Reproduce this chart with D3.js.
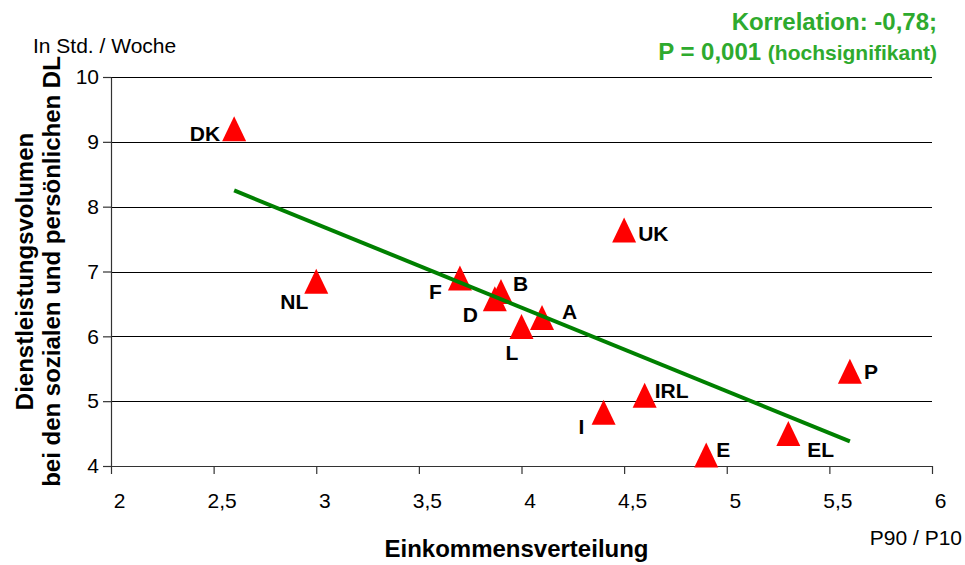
<!DOCTYPE html>
<html>
<head>
<meta charset="utf-8">
<script src="https://cdn.jsdelivr.net/npm/d3@7"></script>
<style>
  html, body { margin: 0; padding: 0; background: #fff; overflow: hidden; }
  svg { display: block; font-family: "Liberation Sans", Arial, sans-serif; }
</style>
</head>
<body>
<div id="chart"></div>
<script>
// data
const countries = ["DK", "NL", "F", "B", "D", "A", "L", "UK", "P", "IRL", "I", "E", "EL"];
const incomeRatio = [2.6, 3.0, 3.7, 3.9, 3.87, 4.1, 4.0, 4.5, 5.6, 4.6, 4.4, 4.9, 5.3];
const serviceHours = [9.2, 6.85, 6.9, 6.69, 6.58, 6.29, 6.15, 7.64, 5.46, 5.09, 4.83, 4.17, 4.5];
const trendX = [2.6, 5.6];
const trendY = [8.25, 4.38];
const xTicks = [2, 2.5, 3, 3.5, 4, 4.5, 5, 5.5, 6];
const yTicks = [4, 5, 6, 7, 8, 9, 10];

// hand-placed label offsets (px from the marker centre), like the original
const labelPos = {
    DK:  { dx: -14, dy: 12, anchor: "end" },
    NL:  { dx: -8,  dy: 28, anchor: "end" },
    F:   { dx: -18, dy: 21, anchor: "end" },
    B:   { dx: 12,  dy: -1, anchor: "start" },
    D:   { dx: -17, dy: 23, anchor: "end" },
    A:   { dx: 20,  dy: 1,  anchor: "start" },
    L:   { dx: -16, dy: 33, anchor: "start" },
    UK:  { dx: 14,  dy: 11, anchor: "start" },
    P:   { dx: 14,  dy: 8,  anchor: "start" },
    IRL: { dx: 10,  dy: 3,  anchor: "start" },
    I:   { dx: -25, dy: 22, anchor: "start" },
    E:   { dx: 10,  dy: 2,  anchor: "start" },
    EL:  { dx: 19,  dy: 23, anchor: "start" }
};

const width = 965, height = 565;
const margin = { top: 77, right: 33, bottom: 99, left: 111 };
const innerWidth = width - margin.left - margin.right;
const innerHeight = height - margin.top - margin.bottom;

// German decimal comma
const de = d3.formatLocale({ decimal: ",", thousands: ".", grouping: [3], currency: ["", " €"] });
const fmt = de.format("~g");

const svg = d3.select("#chart").append("svg")
    .attr("width", width)
    .attr("height", height);

const chart = svg.append("g")
    .attr("transform", `translate(${margin.left}, ${margin.top})`);

const x = d3.scaleLinear().domain([2, 6]).range([0, innerWidth]);
const y = d3.scaleLinear().domain([4, 10]).range([innerHeight, 0]);

// gridlines
chart.append("g")
    .selectAll("line")
    .data(yTicks.filter(t => t > 4))
    .enter().append("line")
    .attr("x1", 0).attr("x2", innerWidth)
    .attr("y1", d => Math.round(y(d)) + 0.5).attr("y2", d => Math.round(y(d)) + 0.5)
    .attr("stroke", "#000")
    .attr("stroke-width", 1);

// axes
const xAxisG = chart.append("g")
    .attr("transform", `translate(0, ${innerHeight})`)
    .call(d3.axisBottom(x).tickValues(xTicks).tickFormat(fmt).tickSize(8).tickPadding(19).tickSizeOuter(0));

const yAxisG = chart.append("g")
    .call(d3.axisLeft(y).tickValues(yTicks).tickFormat(fmt).tickSize(8).tickPadding(4).tickSizeOuter(0));

[xAxisG, yAxisG].forEach(g => {
    g.selectAll("path, line").attr("stroke", "#333").attr("stroke-width", 1.2);
    g.selectAll("text").attr("font-size", "21px").attr("fill", "#000")
        .attr("font-family", "'Liberation Sans', Arial, sans-serif");
});
// the original's x labels sit a little right of their ticks
xAxisG.selectAll("text").attr("dx", 8);

// markers (box-centred triangles, as Excel draws them)
const triangle = d3.line()([[0, -12.5], [12, 12.5], [-12, 12.5]]) + "Z";
const points = countries.map((c, i) => ({ name: c, xv: incomeRatio[i], yv: serviceHours[i] }));

chart.append("g")
    .selectAll("path")
    .data(points)
    .enter().append("path")
    .attr("d", triangle)
    .attr("transform", d => `translate(${x(d.xv)}, ${y(d.yv)})`)
    .attr("fill", "#ff0000");

// trend line drawn over the markers
chart.append("path")
    .datum(trendX.map((v, i) => [v, trendY[i]]))
    .attr("d", d3.line().x(d => x(d[0])).y(d => y(d[1])))
    .attr("fill", "none")
    .attr("stroke", "#008000")
    .attr("stroke-width", 4);

// country labels
chart.append("g")
    .selectAll("text")
    .data(points)
    .enter().append("text")
    .attr("x", d => x(d.xv) + labelPos[d.name].dx)
    .attr("y", d => y(d.yv) + labelPos[d.name].dy)
    .attr("text-anchor", d => labelPos[d.name].anchor)
    .attr("font-size", "21px")
    .attr("font-weight", "bold")
    .text(d => d.name);

// axis titles and units
svg.append("text")
    .attr("x", margin.left + innerWidth / 2 - 5)
    .attr("y", 557)
    .attr("text-anchor", "middle")
    .attr("font-size", "24px")
    .attr("font-weight", "bold")
    .text("Einkommensverteilung");

svg.append("text")
    .attr("x", 962)
    .attr("y", 545)
    .attr("text-anchor", "end")
    .attr("font-size", "21px")
    .text("P90 / P10");

svg.append("text")
    .attr("x", 33)
    .attr("y", 53)
    .attr("font-size", "21px")
    .text("In Std. / Woche");

const yTitle = svg.append("text")
    .attr("transform", `translate(0, ${margin.top + innerHeight / 2}) rotate(-90)`)
    .attr("text-anchor", "middle")
    .attr("font-size", "24px")
    .attr("font-weight", "bold");
yTitle.append("tspan").attr("x", 0).attr("y", 33).text("Dienstleistungsvolumen");
yTitle.append("tspan").attr("x", 0).attr("y", 60).text("bei den sozialen und persönlichen DL");

// correlation note
const note = svg.append("g").attr("fill", "#2eaa2e").attr("font-weight", "bold").attr("text-anchor", "end");
note.append("text").attr("x", 937).attr("y", 30).attr("font-size", "24px").text("Korrelation: -0,78;");
const l2 = note.append("text").attr("x", 937).attr("y", 60).attr("font-size", "24px");
l2.append("tspan").text("P = 0,001 ");
l2.append("tspan").attr("font-size", "21px").text("(hochsignifikant)");
</script>
</body>
</html>
